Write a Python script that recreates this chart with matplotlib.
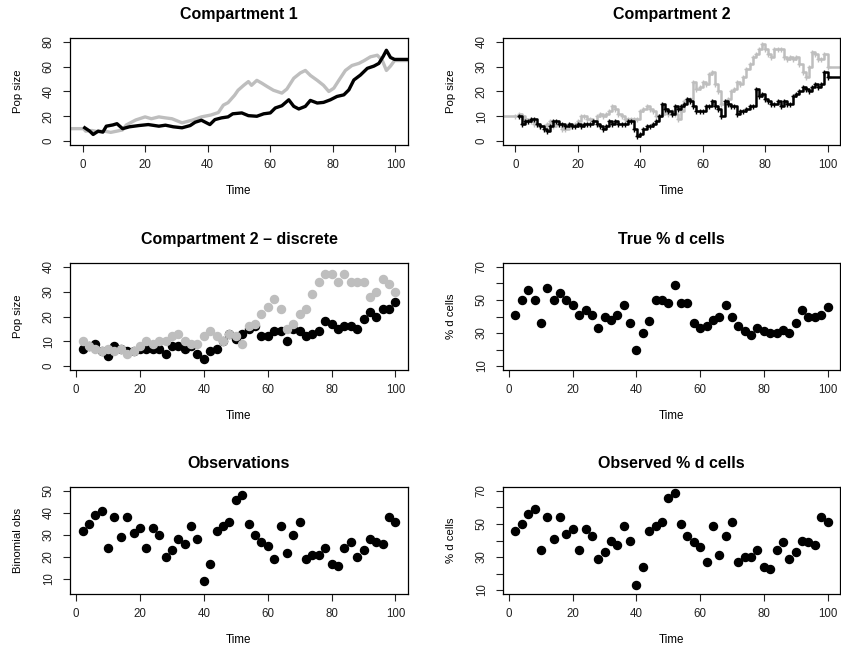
import matplotlib
matplotlib.use("Agg")
import matplotlib.pyplot as plt

plt.rcParams["font.family"] = ["Liberation Sans", "DejaVu Sans"]

GREY = "#BEBEBE"

# ---- Compartment 1 (continuous trajectories) ----
c1_grey_t = [-4, 0.3, 1, 3, 5, 7, 9, 11, 12.8, 14, 17, 20, 22, 24.4, 26.5, 28.6,
             31.8, 35, 38, 41, 43.4, 45, 46.5, 48.6, 49.7, 51.5, 53, 54, 55.7,
             57.3, 59, 61, 63.7, 65.3, 67.5, 69.6, 71.2, 72.8, 75, 77, 78.7, 80.3,
             81.9, 84, 86.1, 88.3, 89.9, 92, 94.2, 95.8, 97.1, 98.4, 99.7]
c1_grey_v = [10, 10, 8, 8.5, 7.5, 8, 7, 8, 9, 13, 17, 19.5, 18, 19.5, 18.7, 18,
             14.7, 16.8, 19.5, 21, 23, 29, 31, 37, 41, 45, 48, 45, 49,
             46.7, 44, 41, 38.7, 42, 50.7, 55, 57, 53, 49, 45, 40, 42.7,
             49, 57, 61, 62.7, 64.8, 68, 69.3, 65, 57, 60.5, 65]
c1_black_t = [0.7, 2.3, 3.4, 5, 6.5, 7.6, 9.7, 11, 12.8, 15, 18, 21, 24.4, 26.5,
              29, 31.8, 34.4, 36, 38, 40.7, 42.3, 44.4, 46.5, 48, 50.9, 53, 55.7,
              57.9, 60, 61.6, 63.7, 65.9, 67.5, 69.1, 71.2, 72.8, 75, 77, 79.2,
              81.3, 83.5, 85.1, 86.7, 88.8, 91, 93.1, 94.7, 96.1, 97.1, 98.4, 99.7]
c1_black_v = [10.7, 8, 5.3, 8, 7.2, 12, 13, 14, 10, 11.5, 12.5, 13.3, 12, 12.8,
              11.5, 10.7, 12.5, 15.2, 16.8, 13.3, 17.3, 18.7, 19.5, 22, 22.7, 20.5, 20,
              22, 22.7, 26.7, 28.5, 33.3, 28, 25.9, 28, 32.8, 30.7, 31.2, 33.3,
              36, 37.3, 41.3, 49.3, 53.3, 58.7, 60.5, 62.7, 68.5, 73.3, 67.5, 65.9]

# ---- Compartment 2 (continuous, integer counts) ----
c2_grey_t = [-4] + list(range(0, 101))
c2_grey_v = [10, 10, 11, 10, 9, 8, 8, 7, 7, 6, 6, 7, 8, 6, 7, 7, 5, 5, 6, 6, 7,
             8, 10, 10, 9, 9, 8, 10, 11, 10, 11, 12, 14, 13, 11, 10, 9, 9, 9, 9, 9,
             12, 13, 14, 13, 12, 10, 10, 11, 13, 11, 12, 11, 9, 12, 16, 17, 17, 24,
             21, 22, 24, 23, 27, 28, 23, 20, 15, 15, 17, 20, 21, 24, 23, 26, 29, 31,
             34, 35, 37, 39, 37, 35, 34, 37, 37, 37, 34, 33, 34, 33, 34, 31, 28, 26,
             30, 36, 35, 33, 33, 35, 30]
c2_black_t = list(range(1, 101))
c2_black_v = [10, 7, 8, 8, 9, 9, 7, 6, 5, 4, 6, 8, 8, 7, 7, 6, 7, 6, 6, 7,
              6, 7, 7, 7, 8, 7, 6, 5, 6, 8, 7, 8, 7, 7, 7, 8, 8, 5, 2, 3,
              5, 6, 6, 7, 8, 10, 15, 13, 12, 11, 14, 13, 14, 15, 17, 16, 14, 12, 12, 12,
              14, 14, 16, 14, 13, 10, 16, 15, 14, 14, 11, 12, 12, 13, 14, 14, 21, 18, 19, 17,
              16, 15, 15, 16, 14, 16, 15, 15, 18, 19, 20, 22, 21, 20, 22, 23, 22, 23, 28, 26]

# ---- sampled every 2 time units ----
time_even = list(range(2, 101, 2))
disc_black = [7, 8, 9, 6, 4, 8, 7, 6, 6, 7, 7, 7, 7, 5, 8, 8, 7, 8, 5, 3,
              6, 7, 10, 13, 11, 13, 15, 16, 12, 12, 14, 14, 10, 15, 14, 12, 13, 14, 18, 17,
              15, 16, 16, 15, 19, 22, 20, 23, 23, 26]
disc_grey = [10, 8, 7, 6, 7, 6, 7, 5, 6, 8, 10, 9, 10, 10, 12, 13, 10, 9, 9, 12,
             14, 12, 10, 13, 12, 9, 16, 17, 21, 24, 27, 23, 15, 17, 21, 23, 29, 34, 37, 37,
             34, 37, 34, 34, 34, 28, 30, 35, 33, 30]
true_pct = [41, 50, 56, 50, 36, 57, 50, 54, 50, 47, 41, 44, 41, 33, 40, 38, 41, 47, 36, 20,
            30, 37, 50, 50, 48, 59, 48, 48, 36, 33, 34, 38, 40, 47, 40, 34, 31, 29, 33, 31,
            30, 30, 32, 30, 36, 44, 40, 40, 41, 46]
binom_obs = [32, 35, 39, 41, 24, 38, 29, 38, 31, 33, 24, 33, 30, 20, 23, 28, 26, 34, 28, 9,
             17, 32, 34, 36, 46, 48, 35, 30, 27, 25, 19, 34, 22, 30, 36, 19, 21, 21, 24, 17,
             16, 24, 27, 20, 23, 28, 27, 26, 38, 36]
obs_pct = [46, 50, 56, 59, 34, 54, 41, 54, 44, 47, 34, 47, 43, 29, 33, 40, 37, 49, 40, 13,
           24, 46, 49, 51, 66, 69, 50, 43, 39, 36, 27, 49, 31, 43, 51, 27, 30, 30, 34, 24,
           23, 34, 39, 29, 33, 40, 39, 37, 54, 51]

x_ticks = [0, 20, 40, 60, 80, 100]

fig = plt.figure(figsize=(8.41, 6.46), dpi=100)
W, H = 841, 646


def add_ax(x0, ytop, w=338, h=107):
    return fig.add_axes([x0 / W, (H - ytop - h) / H, w / W, h / H])


def style(ax, title, ylabel, xlim, ylim, yticks, ylabels=None):
    ax.set_xlim(*xlim)
    ax.set_ylim(*ylim)
    ax.set_xticks(x_ticks)
    ax.set_yticks(yticks)
    if ylabels is not None:
        ax.set_yticklabels(ylabels)
    ax.tick_params(direction="out", length=5, width=0.8, labelsize=8.3, colors="#222222")
    ax.tick_params(axis="x", pad=5)
    ax.tick_params(axis="y", labelrotation=90, pad=6)
    for lab in ax.get_yticklabels():
        lab.set_verticalalignment("center")
    for s in ax.spines.values():
        s.set_linewidth(0.9)
    ax.set_title(title, fontsize=11.5, fontweight="bold", pad=14)
    ax.set_xlabel("Time", fontsize=8.4, labelpad=10)
    ax.set_ylabel(ylabel, fontsize=8.2, labelpad=14)


LX, RX = 70, 503
R1, R2, R3 = 38, 263, 487
cont_xlim = (-4, 104)
disc_xlim = (-1.92, 103.92)

# Compartment 1
ax = add_ax(LX, R1)
ax.plot(c1_grey_t + [104], c1_grey_v + [c1_grey_v[-1]], color=GREY, lw=2.4)
ax.plot(c1_black_t + [104], c1_black_v + [c1_black_v[-1]], color="black", lw=2.4)
style(ax, "Compartment 1", "Pop size", cont_xlim, (-3.2, 83.2), [0, 20, 40, 60, 80])

# Compartment 2
ax = add_ax(RX, R1, w=337)
ax.plot(c2_grey_t + [104], c2_grey_v + [c2_grey_v[-1]], color=GREY, lw=1.8,
        drawstyle="steps-post", marker="+", ms=3.6, mew=1.0,
        markevery=list(range(1, len(c2_grey_t))))
ax.plot(c2_black_t + [104], c2_black_v + [c2_black_v[-1]], color="black", lw=1.8,
        drawstyle="steps-post", marker="+", ms=3.6, mew=1.0,
        markevery=list(range(0, len(c2_black_t))))
style(ax, "Compartment 2", "Pop size", cont_xlim, (-1.6, 41.6), [0, 10, 20, 30, 40])

# Compartment 2 - discrete
ax = add_ax(LX, R2)
ax.plot(time_even, disc_black, "o", color="black", ms=5.8, mec="black")
ax.plot(time_even, disc_grey, "o", color=GREY, ms=5.8, mec=GREY)
style(ax, "Compartment 2 \u2013 discrete", "Pop size", disc_xlim, (-1.6, 41.6), [0, 10, 20, 30, 40])

pct_ticks = [10, 20, 30, 40, 50, 60, 70]
pct_labels = ["10", "", "30", "", "50", "", "70"]

# True % d cells
ax = add_ax(RX, R2, w=337)
ax.plot(time_even, true_pct, "o", color="black", ms=5.8)
style(ax, "True % d cells", "% d cells", disc_xlim, (7.6, 72.4), pct_ticks, pct_labels)

# Observations
ax = add_ax(LX, R3)
ax.plot(time_even, binom_obs, "o", color="black", ms=5.8)
style(ax, "Observations", "Binomial obs", disc_xlim, (3.2, 51.8), [10, 20, 30, 40, 50])

# Observed % d cells
ax = add_ax(RX, R3, w=337)
ax.plot(time_even, obs_pct, "o", color="black", ms=5.8)
style(ax, "Observed % d cells", "% d cells", disc_xlim, (7.6, 72.4), pct_ticks, pct_labels)

fig.savefig("out.png", dpi=100)
